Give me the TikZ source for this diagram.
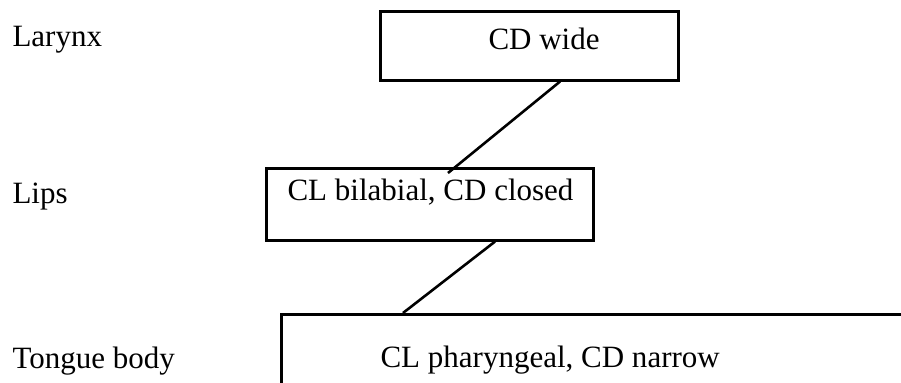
\documentclass[tikz,border=0pt]{standalone}
\usepackage{fontspec}
\setmainfont{Liberation Serif}
\usetikzlibrary{calc}
\newcommand\pxu{0.387pt}
\tikzset{
  tier/.style={font=\fontsize{12}{14}\selectfont,anchor=base west,inner sep=0pt},
  gesture/.style={draw,line width=1pt,anchor=north west,inner sep=0pt},
  link/.style={line width=1pt},
}
\begin{document}
\begin{tikzpicture}[x=0.387pt,y=-0.387pt]
\useasboundingbox (0,0) rectangle (901,383);
\clip (0,0) rectangle (901,383);
%tiers
\node[tier] (larynx) at (12,47) {Larynx};
\node[tier] (lips) at (12,204) {Lips};
\node[tier] (tongue) at (12,369) {Tongue body};
%gesture boxes
\node[gesture,minimum width=298*\pxu,minimum height=69*\pxu] (widebox) at (379,10) {};
\node[gesture,minimum width=327*\pxu,minimum height=72*\pxu] (bilabbox) at (265,167) {};
\node[gesture,minimum width=700*\pxu,minimum height=120*\pxu] (pharbox) at (280,313) {};
%gesture labels
\node[tier] (wide) at (488,50) {CD wide};
\node[tier] (bilab) at (287,201) {CL bilabial, CD closed};
\node[tier] (phar) at (380,368) {CL pharyngeal, CD narrow};
%links
\draw[link] ($(widebox.south west)+(181,0)$) -- ($(bilabbox.north west)+(183,6)$);
\draw[link] ($(bilabbox.south west)+(230,0)$) -- ($(pharbox.north west)+(123,0)$);
\end{tikzpicture}
\end{document}
